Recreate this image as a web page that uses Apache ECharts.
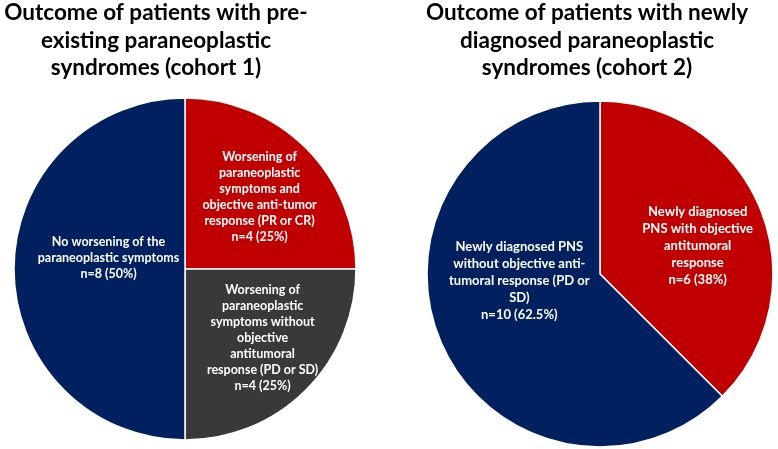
<!DOCTYPE html>
<html>
<head>
<meta charset="utf-8">
<script src="https://cdn.jsdelivr.net/npm/echarts@6/dist/echarts.min.js"></script>
<style>
html,body{margin:0;padding:0;background:#fff;}
#chart{width:778px;height:449px;}
</style>
</head>
<body>
<div id="chart"></div>
<script>
// ---- Data ----
const title1 = "Outcome of patients with pre-\nexisting paraneoplastic\nsyndromes (cohort 1)";
const title2 = "Outcome of patients with newly\ndiagnosed paraneoplastic\nsyndromes (cohort 2)";

const cohort1Labels = [
  "Worsening of\nparaneoplastic\nsymptoms and\nobjective anti-tumor\nresponse (PR or CR)",
  "Worsening of\nparaneoplastic\nsymptoms without\nobjective\nantitumoral\nresponse (PD or SD)",
  "No worsening of the\nparaneoplastic symptoms"
];
const cohort1Values = [4, 4, 8];
const cohort1Pct = ["25%", "25%", "50%"];

const cohort2Labels = [
  "Newly diagnosed\nPNS with objective\nantitumoral\nresponse",
  "Newly diagnosed PNS\nwithout objective anti-\ntumoral response (PD or\nSD)"
];
const cohort2Values = [6, 10];
const cohort2Pct = ["38%", "62.5%"];

// ---- Styles ----
const colors1 = ["#C00000", "#3B3838", "#002060"];
const colors2 = ["#C00000", "#002060"];
const shift1 = [[12, -9], [15, 6], [12, -11]];
const shift2 = [[15, 6], [2, -27]];

function buildData(labels, values, pct, colors) {
  return labels.map((l, i) => ({
    name: l,
    value: values[i],
    pct: pct[i],
    itemStyle: { color: colors[i] }
  }));
}

function labelStyle(size, lh) {
  return {
    show: true,
    position: 'inside',
    color: '#fff',
    fontFamily: 'Lato',
    fontWeight: 'bold',
    fontSize: size,
    lineHeight: lh,
    align: 'center',
    overflow: 'none',
    formatter: p => p.name + "\nn=" + p.value + " (" + p.data.pct + ")"
  };
}

const titleStyle = {
  fontFamily: 'Lato',
  fontWeight: 'bold',
  fontSize: 22.5,
  lineHeight: 27.5,
  color: '#000'
};

const chart = echarts.init(document.getElementById('chart'), null, { renderer: 'canvas' });
chart.setOption({
  animation: false,
  backgroundColor: '#fff',
  title: [
    { text: title1, left: 156, top: -1, padding: 0, textAlign: 'center', textStyle: titleStyle },
    { text: title2, left: 587, top: -1, padding: 0, textAlign: 'center', textStyle: titleStyle }
  ],
  series: [
    {
      type: 'pie',
      center: [185, 269],
      radius: 171,
      startAngle: 90,
      clockwise: true,
      silent: true,
      itemStyle: { borderColor: '#fff', borderWidth: 1.5 },
      label: labelStyle(12.5, 16),
      labelLine: { show: false },
      labelLayout: p => ({ dx: shift1[p.dataIndex][0], dy: shift1[p.dataIndex][1] }),
      data: buildData(cohort1Labels, cohort1Values, cohort1Pct, colors1)
    },
    {
      type: 'pie',
      center: [600, 274],
      radius: 173,
      startAngle: 90,
      clockwise: true,
      silent: true,
      itemStyle: { borderColor: '#fff', borderWidth: 1.5 },
      label: labelStyle(13, 17),
      labelLine: { show: false },
      labelLayout: p => ({ dx: shift2[p.dataIndex][0], dy: shift2[p.dataIndex][1] }),
      data: buildData(cohort2Labels, cohort2Values, cohort2Pct, colors2)
    }
  ]
});
</script>
</body>
</html>
